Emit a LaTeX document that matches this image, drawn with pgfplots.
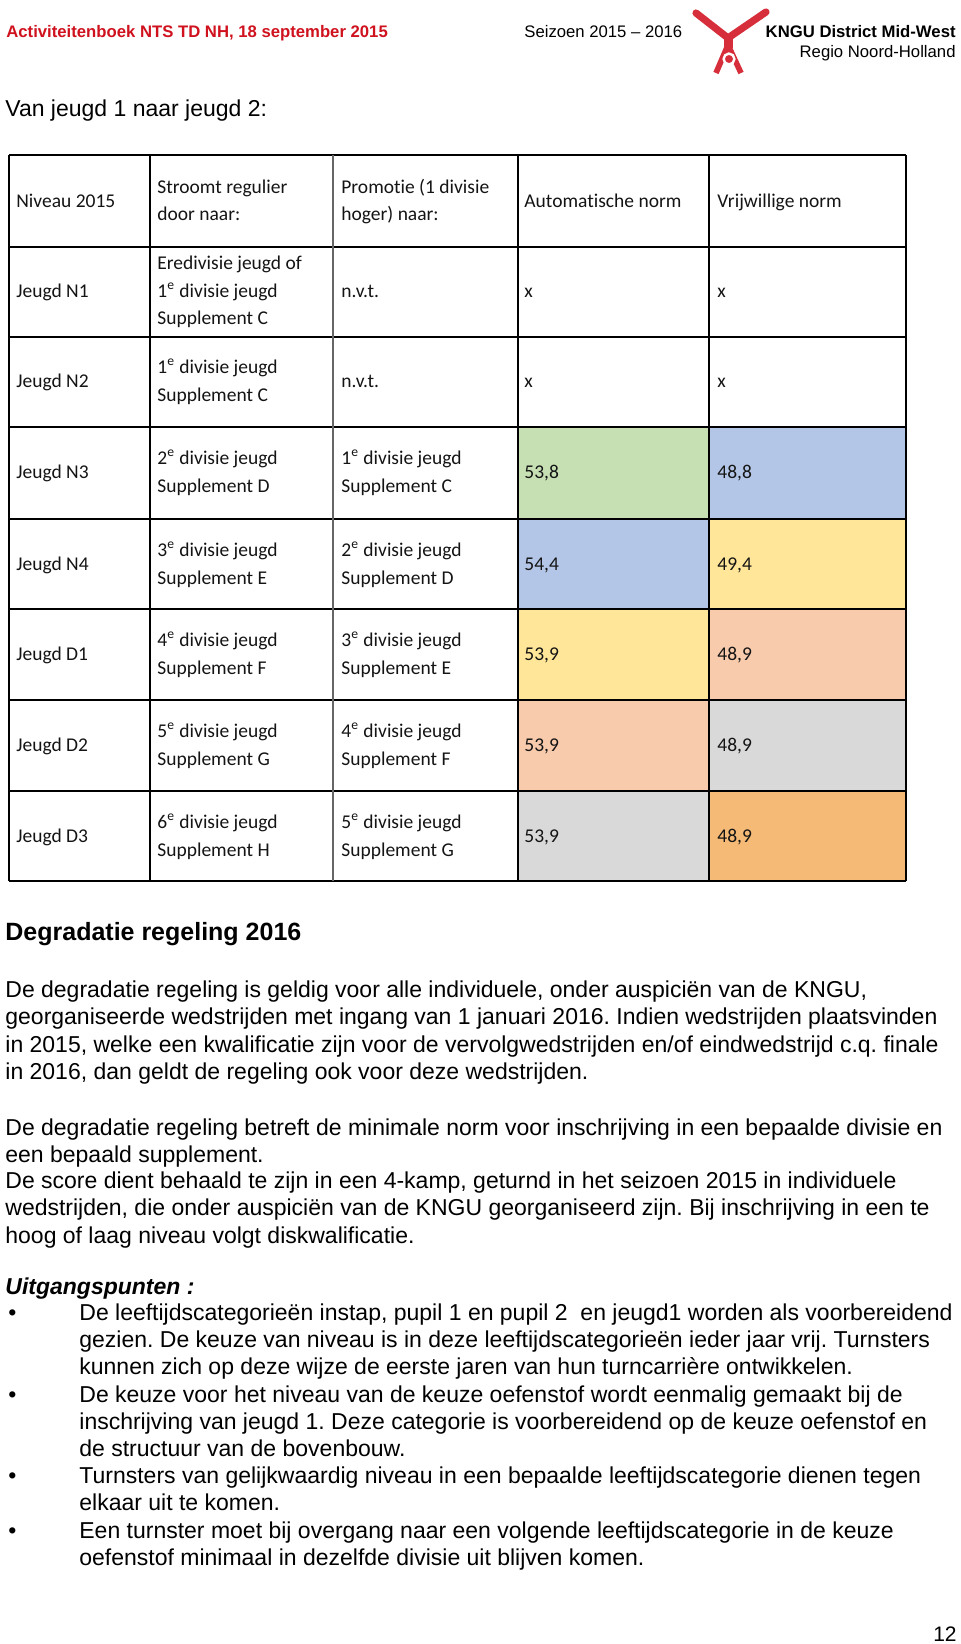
\documentclass[border=0pt]{standalone}
\usepackage{pgfplots}
\pgfplotsset{compat=1.18}
\usepackage{fontspec}
\setmainfont{Liberation Sans}
\newfontfamily\calibri{Carlito}[Ligatures=NoCommon]
\frenchspacing

\definecolor{hdrred}{RGB}{208,18,30}
\definecolor{logored}{RGB}{214,46,58}
\definecolor{cgreen}{RGB}{198,224,180}
\definecolor{cblue}{RGB}{180,198,231}
\definecolor{cyellow}{RGB}{255,230,153}
\definecolor{cpeach}{RGB}{248,203,173}
\definecolor{cgrey}{RGB}{217,217,217}
\definecolor{corange}{RGB}{245,186,118}
\definecolor{grid}{RGB}{35,35,35}

% 1 px of the page = 0.5pt
\newcommand{\hdrfont}{\fontsize{8.35pt}{10pt}\selectfont}
\newcommand{\bodyfont}{\fontsize{11.5pt}{13.5pt}\selectfont}
\newcommand{\tabfont}{\calibri\fontsize{9.75pt}{11.5pt}\selectfont}

\newcommand{\txt}[3]{\node[anchor=base west,inner sep=0pt,font=\bodyfont] at (axis cs:#1,#2) {#3};}
\newcommand{\tab}[3]{\node[anchor=base west,inner sep=0pt,font=\tabfont,text=black!92] at (axis cs:#1,#2) {#3};}
\newcommand{\cell}[5]{\addplot[fill=#5,draw=none] coordinates {(#1,#2) (#3,#2) (#3,#4) (#1,#4)} -- cycle;}
\newcommand{\hl}[1]{\addplot[grid,line width=1pt] coordinates {(9,#1) (906,#1)};}
\newcommand{\vl}[2]{\addplot[#2,line width=1pt] coordinates {(#1,155) (#1,881)};}
% a two-line row of the table: top, label, col2, col2 supplement, col3, col3 supplement, auto
\newcommand{\trow}[7]{%
  \tab{16}{#1+51}{#2}
  \tab{157}{#1+37}{#3}
  \tab{157}{#1+65}{Supplement #4}
  \tab{341}{#1+37}{#5}
  \tab{341}{#1+65}{Supplement #6}
  \tab{524}{#1+51}{#7}}
\newcommand{\dv}[1]{#1\textsuperscript{e} divisie jeugd}

\begin{document}
\begin{tikzpicture}
\begin{axis}[
    scale only axis,
    width=480pt, height=822pt,
    xmin=0, xmax=960, ymin=0, ymax=1644,
    y dir=reverse,
    hide axis,
    clip=false,
    no markers,
]
% page
\addplot[fill=white,draw=none] coordinates {(0,0) (960,0) (960,1644) (0,1644)} -- cycle;

% header
\node[anchor=base west,inner sep=0pt,font=\hdrfont\bfseries,text=hdrred] at (axis cs:6,37) {Activiteitenboek NTS TD NH, 18 september 2015};
\node[anchor=base west,inner sep=0pt,font=\hdrfont] at (axis cs:524,37) {Seizoen 2015 -- 2016};
\node[anchor=base east,inner sep=0pt,font=\hdrfont\bfseries] at (axis cs:956,37) {KNGU District Mid-West};
\node[anchor=base east,inner sep=0pt,font=\hdrfont] at (axis cs:956,57) {Regio Noord-Holland};

% logo
\addplot[logored,line width=3.6pt,line cap=round,line join=round] coordinates {(696,13) (728,38) (766,12)};
\addplot[logored,line width=4.5pt] coordinates {(728,34) (728,48)};
\addplot[logored,line width=2.8pt,line join=round] coordinates {(716,73) (728,45) (741,73)};
\addplot[only marks,mark=*,mark size=2.7pt,mark options={fill=logored,draw=white,line width=1.2pt}] coordinates {(729,59)};

\txt{5}{116}{Van jeugd 1 naar jeugd 2:}

% table cells
\cell{518}{427}{709}{519}{cgreen}
\cell{709}{427}{906}{519}{cblue}
\cell{518}{519}{709}{609}{cblue}
\cell{709}{519}{906}{609}{cyellow}
\cell{518}{609}{709}{700}{cyellow}
\cell{709}{609}{906}{700}{cpeach}
\cell{518}{700}{709}{791}{cpeach}
\cell{709}{700}{906}{791}{cgrey}
\cell{518}{791}{709}{881}{cgrey}
\cell{709}{791}{906}{881}{corange}

% grid
\hl{155}\hl{247}\hl{337}\hl{427}\hl{519}\hl{609}\hl{700}\hl{791}\hl{881}
\vl{9}{grid}\vl{150}{grid}\vl{333}{black!60}\vl{518}{grid}\vl{709}{grid}\vl{906}{grid}

% table text
\tab{16}{207}{Niveau 2015}
\tab{157}{193}{Stroomt regulier}
\tab{157}{220}{door naar:}
\tab{341}{193}{Promotie (1 divisie}
\tab{341}{220}{hoger) naar:}
\tab{524}{207}{Automatische norm}
\tab{717}{207}{Vrijwillige norm}

\tab{16}{297}{Jeugd N1}
\tab{157}{269}{Eredivisie jeugd of}
\tab{157}{297}{\dv{1}}
\tab{157}{324}{Supplement C}
\tab{341}{297}{n.v.t.}
\tab{524}{297}{x}
\tab{717}{297}{x}

\tab{16}{387}{Jeugd N2}
\tab{157}{373}{\dv{1}}
\tab{157}{401}{Supplement C}
\tab{341}{387}{n.v.t.}
\tab{524}{387}{x}
\tab{717}{387}{x}

\trow{427}{Jeugd N3}{\dv{2}}{D}{\dv{1}}{C}{53,8}
\tab{717}{478}{48,8}
\trow{519}{Jeugd N4}{\dv{3}}{E}{\dv{2}}{D}{54,4}
\tab{717}{570}{49,4}
\trow{609}{Jeugd D1}{\dv{4}}{F}{\dv{3}}{E}{53,9}
\tab{717}{660}{48,9}
\trow{700}{Jeugd D2}{\dv{5}}{G}{\dv{4}}{F}{53,9}
\tab{717}{751}{48,9}
\trow{791}{Jeugd D3}{\dv{6}}{H}{\dv{5}}{G}{53,9}
\tab{717}{842}{48,9}

% body text
\node[anchor=base west,inner sep=0pt,font=\fontsize{12.5pt}{15pt}\selectfont\bfseries] at (axis cs:5,940) {Degradatie regeling 2016};

\txt{5}{997}{De degradatie regeling is geldig voor alle individuele, onder auspiciën van de KNGU,}
\txt{5}{1024.5}{georganiseerde wedstrijden met ingang van 1 januari 2016. Indien wedstrijden plaatsvinden}
\txt{5}{1052}{in 2015, welke een kwalificatie zijn voor de vervolgwedstrijden en/of eindwedstrijd c.q. finale}
\txt{5}{1079.5}{in 2016, dan geldt de regeling ook voor deze wedstrijden.}

\txt{5}{1135}{De degradatie regeling betreft de minimale norm voor inschrijving in een bepaalde divisie en}
\txt{5}{1162}{een bepaald supplement.}
\txt{5}{1188}{De score dient behaald te zijn in een 4-kamp, geturnd in het seizoen 2015 in individuele}
\txt{5}{1215}{wedstrijden, die onder auspiciën van de KNGU georganiseerd zijn. Bij inschrijving in een te}
\txt{5}{1243}{hoog of laag niveau volgt diskwalificatie.}

\node[anchor=base west,inner sep=0pt,font=\bodyfont\bfseries\itshape] at (axis cs:5,1294) {Uitgangspunten :};

\txt{8}{1320}{•}
\txt{79}{1320}{De leeftijdscategorieën instap, pupil 1 en pupil 2 \ en jeugd1 worden als voorbereidend}
\txt{79}{1347}{gezien. De keuze van niveau is in deze leeftijdscategorieën ieder jaar vrij. Turnsters}
\txt{79}{1374.5}{kunnen zich op deze wijze de eerste jaren van hun turncarrière ontwikkelen.}
\txt{8}{1402}{•}
\txt{79}{1402}{De keuze voor het niveau van de keuze oefenstof wordt eenmalig gemaakt bij de}
\txt{79}{1429}{inschrijving van jeugd 1. Deze categorie is voorbereidend op de keuze oefenstof en}
\txt{79}{1456}{de structuur van de bovenbouw.}
\txt{8}{1483}{•}
\txt{79}{1483}{Turnsters van gelijkwaardig niveau in een bepaalde leeftijdscategorie dienen tegen}
\txt{79}{1510.5}{elkaar uit te komen.}
\txt{8}{1538}{•}
\txt{79}{1538}{Een turnster moet bij overgang naar een volgende leeftijdscategorie in de keuze}
\txt{79}{1565}{oefenstof minimaal in dezelfde divisie uit blijven komen.}

\node[anchor=base east,inner sep=0pt,font=\fontsize{10.5pt}{12pt}\selectfont] at (axis cs:957,1641) {12};
\end{axis}
\end{tikzpicture}
\end{document}
